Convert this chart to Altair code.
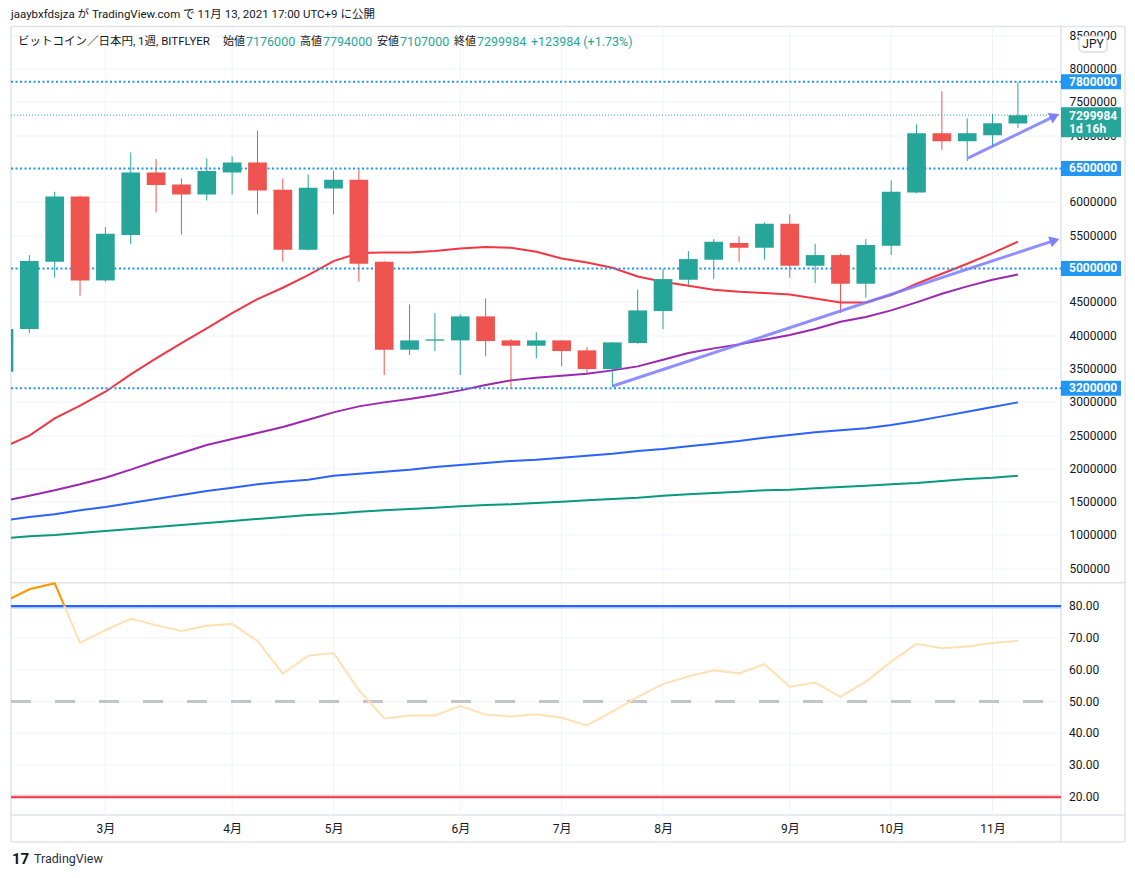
import altair as alt
import pandas as pd

FONT = "Roboto, 'Noto Sans CJK JP', sans-serif"
TEXT = "#131722"
UP = "#26a69a"
DOWN = "#ef5350"
FRAME = "#e0e3eb"
GRID = "#f0f3fa"

# ---------------- data ----------------
bar_index = list(range(41))  # weekly bars, 2021-02-01 .. 2021-11-08
opens = [3450000, 4090000, 5100000, 6080000, 4820000, 5500000, 6440000, 6260000, 6110000, 6440000,
         6590000, 6180000, 5280000, 6200000, 6330000, 5100000, 3780000, 3915000, 3920000, 4280000,
         3920000, 3840000, 3920000, 3770000, 3490000, 3880000, 4360000, 4830000, 5130000, 5380000,
         5310000, 5670000, 5040000, 5200000, 4770000, 5340000, 6140000, 7030000, 6910000, 7000000, 7176000]
highs = [4200000, 5200000, 6150000, 6090000, 5620000, 6740000, 6640000, 6350000, 6650000, 6680000,
         7070000, 6350000, 6410000, 6470000, 6490000, 5110000, 4460000, 4330000, 4310000, 4550000,
         3940000, 4040000, 3920000, 3820000, 3890000, 4680000, 4990000, 5260000, 5440000, 5480000,
         5690000, 5810000, 5370000, 5220000, 5440000, 6320000, 7160000, 7660000, 7250000, 7320000, 7794000]
lows = [3400000, 4030000, 4860000, 4590000, 4800000, 5360000, 5840000, 5510000, 6020000, 6110000,
        5810000, 5100000, 5270000, 5810000, 4800000, 3400000, 3700000, 3760000, 3400000, 3680000,
        3200000, 3650000, 3530000, 3430000, 3220000, 3870000, 4090000, 4730000, 4840000, 5100000,
        5130000, 4860000, 4780000, 4330000, 4560000, 5200000, 6130000, 6780000, 6610000, 6820000, 7107000]
closes = [4090000, 5110000, 6080000, 4820000, 5520000, 6440000, 6250000, 6110000, 6460000, 6590000,
          6170000, 5280000, 6210000, 6330000, 5070000, 3780000, 3920000, 3935000, 4280000, 3910000,
          3840000, 3920000, 3760000, 3490000, 3890000, 4370000, 4840000, 5140000, 5400000, 5310000,
          5670000, 5040000, 5200000, 4770000, 5350000, 6150000, 7030000, 6910000, 7030000, 7180000, 7299984]

ma_red = [2320000, 2490000, 2750000, 2940000, 3150000, 3410000, 3650000, 3880000, 4100000, 4330000,
          4540000, 4710000, 4900000, 5110000, 5230000, 5240000, 5240000, 5260000, 5300000, 5320000,
          5310000, 5250000, 5150000, 5090000, 5010000, 4880000, 4800000, 4740000, 4680000, 4650000,
          4630000, 4610000, 4550000, 4490000, 4490000, 4600000, 4770000, 4920000, 5070000, 5230000, 5400000]
ma_purple = [1510000, 1590000, 1670000, 1760000, 1860000, 1980000, 2110000, 2230000, 2350000, 2440000,
             2530000, 2620000, 2730000, 2840000, 2930000, 2990000, 3040000, 3100000, 3170000, 3250000,
             3320000, 3360000, 3390000, 3420000, 3470000, 3530000, 3630000, 3730000, 3800000, 3860000,
             3930000, 4000000, 4090000, 4200000, 4270000, 4370000, 4490000, 4620000, 4730000, 4830000, 4910000]
ma_blue = [1220000, 1270000, 1310000, 1370000, 1420000, 1480000, 1540000, 1600000, 1660000, 1710000,
           1760000, 1800000, 1830000, 1890000, 1920000, 1950000, 1980000, 2020000, 2050000, 2080000,
           2110000, 2130000, 2160000, 2190000, 2220000, 2260000, 2290000, 2330000, 2370000, 2410000,
           2460000, 2500000, 2540000, 2570000, 2600000, 2650000, 2710000, 2780000, 2850000, 2920000, 2990000]
ma_green = [950000, 980000, 1000000, 1030000, 1060000, 1090000, 1120000, 1150000, 1180000, 1210000,
            1240000, 1270000, 1300000, 1320000, 1350000, 1370000, 1390000, 1410000, 1430000, 1450000,
            1460000, 1480000, 1500000, 1520000, 1540000, 1560000, 1590000, 1610000, 1630000, 1650000,
            1670000, 1680000, 1700000, 1720000, 1740000, 1760000, 1780000, 1810000, 1840000, 1860000, 1890000]

rsi = [81.5, 85.4, 87.3, 68.5, 72.5, 76.1, 74.1, 72.3, 73.9, 74.5,
       69.1, 58.8, 64.5, 65.3, 53.6, 44.7, 45.6, 45.6, 48.6, 45.9,
       45.3, 46.0, 44.9, 42.5, 46.8, 51.5, 55.5, 57.9, 59.9, 58.9,
       61.8, 54.7, 56.0, 51.5, 56.3, 62.6, 68.2, 66.8, 67.4, 68.5, 69.2]
rsi_over_i = [0, 1, 2, 2.39]
rsi_over_v = [81.5, 85.4, 87.3, 80.0]
rsi_upper = [80]
rsi_mid = [50]
rsi_lower = [20]

levels = [7800000, 6500000, 5000000, 3200000]
last_price = [7299984]

trend1_i = [24.02, 41.45]
trend1_v = [3235000, 5420000]
trend2_i = [38.03, 41.45]
trend2_v = [6655000, 7285000]

month_ticks = [4, 9, 13, 18, 22, 26, 31, 35, 39]
month_labels = ["3月", "4月", "5月", "6月", "7月", "8月", "9月", "10月", "11月"]
price_ticks = list(range(500000, 8500001, 500000))
rsi_ticks = [20, 30, 40, 50, 60, 70, 80]

title_text = "jaaybxfdsjza が TradingView.com で 11月 13, 2021 17:00 UTC+9 に公開"
header_name = "ビットコイン／日本円, 1週, BITFLYER"
header_items = [("始値", "7176000"), ("高値", "7794000"), ("安値", "7107000"), ("終値", "7299984")]
header_change = "+123984 (+1.73%)"

# ---------------- layout ----------------
W = 1050          # plot width (both panes)
HP = 556          # price pane height
RT = 556.5        # RSI pane top
H = 788.5         # total plot height (price + RSI)
R = W + 64        # right frame

X = alt.Scale(domain=[0.276, 41.70], nice=False, zero=False, padding=0)
YP = alt.Scale(domain=[287000, 8630000], range=[HP, 0], nice=False, zero=False, padding=0)
YR = alt.Scale(domain=[14.24, 87.39], range=[H, RT], nice=False, zero=False, padding=0)

price_axis = alt.Axis(orient="right", values=price_ticks, format="d", ticks=False, domain=False,
                      labelPadding=8, labelFontSize=12, labelFont=FONT, labelColor=TEXT,
                      gridColor=GRID, title=None, labelOverlap=False, labelFlush=False)
label_expr = ("[" + ",".join(f"'{m}'" for m in month_labels) + "][indexof(["
              + ",".join(str(t) for t in month_ticks) + "], datum.value)]")
x_axis = alt.Axis(values=month_ticks, labelExpr=label_expr, ticks=False, domain=False, grid=False,
                  labelPadding=8, labelFontSize=12, labelFont=FONT, labelColor=TEXT, title=None,
                  labelOverlap=False, labelFlush=False)

dummy = pd.DataFrame({"_": [0]})
xE = alt.X("i:Q", scale=X, axis=x_axis)


def yP(field):
    return alt.Y(field, scale=YP, axis=price_axis)


def yR(field):
    return alt.Y(field, scale=YR, axis=None)


def txt(s, x, y, color=TEXT, size=12, weight="normal", align="left", baseline="middle"):
    return alt.Chart(dummy).mark_text(text=s, align=align, baseline=baseline, fontSize=size,
                                      fontWeight=weight, color=color, font=FONT).encode(
        x=alt.value(x), y=alt.value(y))


def prule(x, x2, y, y2=None, color=FRAME, width=1.5):
    enc = dict(x=alt.value(x), y=alt.value(y))
    if x2 is not None:
        enc["x2"] = alt.value(x2)
    if y2 is not None:
        enc["y2"] = alt.value(y2)
    return alt.Chart(dummy).mark_rule(color=color, strokeWidth=width).encode(**enc)


ohlc = pd.DataFrame({"i": bar_index, "open": opens, "high": highs, "low": lows, "close": closes})
ma = pd.DataFrame({"i": bar_index, "red": ma_red, "purple": ma_purple, "blue": ma_blue, "green": ma_green})
months = pd.DataFrame({"i": month_ticks})
color_enc = alt.Color("dir:N", scale=alt.Scale(domain=["up", "down"], range=[UP, DOWN]), legend=None)

# ---------------- price pane ----------------
wicks = alt.Chart(ohlc).transform_calculate(
    dir="datum.close >= datum.open ? 'up' : 'down'"
).mark_rule(strokeWidth=1, clip=True).encode(
    x=xE, y=yP("low:Q"), y2="high:Q", color=color_enc)

bodies = alt.Chart(ohlc).transform_calculate(
    dir="datum.close >= datum.open ? 'up' : 'down'"
).mark_bar(size=18.7, clip=True).encode(
    x=xE, y=yP("open:Q"), y2="close:Q", color=color_enc)


def ma_line(field, color):
    return alt.Chart(ma).mark_line(color=color, strokeWidth=2, clip=True).encode(
        x=xE, y=yP(f"{field}:Q"))


lv = pd.DataFrame({"v": levels})
lvl_lines = alt.Chart(lv).mark_rule(color="#2196f3", strokeWidth=2, strokeDash=[2, 2.5]).encode(
    y=yP("v:Q"), x=alt.value(0), x2=alt.value(W))
lvl_box = alt.Chart(lv).mark_bar(color="#2196f3", size=15, orient="horizontal").encode(
    y=yP("v:Q"), x=alt.value(W), x2=alt.value(W + 60))
lvl_text = alt.Chart(lv).mark_text(color="white", align="left", baseline="middle", fontSize=12,
                                   fontWeight="bold", font=FONT).encode(
    y=yP("v:Q"), x=alt.value(W + 8), text=alt.Text("v:Q", format="d"))

lp = pd.DataFrame({"v": last_price})
last_line = alt.Chart(lp).mark_rule(color=UP, strokeWidth=1, strokeDash=[1, 2]).encode(
    y=yP("v:Q"), x=alt.value(0), x2=alt.value(W))
last_box = alt.Chart(lp).mark_bar(color=UP, size=30, orient="horizontal", yOffset=7).encode(
    y=yP("v:Q"), x=alt.value(W), x2=alt.value(W + 60))
last_text = alt.Chart(lp).mark_text(color="white", align="left", baseline="middle", fontSize=12,
                                    fontWeight="bold", font=FONT, yOffset=1).encode(
    y=yP("v:Q"), x=alt.value(W + 8), text=alt.Text("v:Q", format="d"))
last_cd = alt.Chart(lp).mark_text(color="white", align="left", baseline="middle", fontSize=12,
                                  fontWeight="bold", font=FONT, yOffset=14, text="1d 16h").encode(
    y=yP("v:Q"), x=alt.value(W + 8))

ARROW = "#7b7bff"


def trend(ii, vv, angle):
    d = pd.DataFrame({"i": ii, "v": vv})
    line = alt.Chart(d).mark_line(color=ARROW, strokeWidth=3, opacity=0.85).encode(
        x=xE, y=yP("v:Q"))
    head = alt.Chart(d.tail(1)).mark_point(shape="triangle-right", filled=True, size=130,
                                           color=ARROW, opacity=0.95, angle=angle).encode(
        x=xE, y=yP("v:Q"))
    return line + head


header = [txt(title_text, 0, -12, size=11.5), txt(header_name, 7, 15.5, size=11.5)]
hx = [(212, 235), (289, 312), (366, 389), (443, 466)]
for (lab, val), (xl, xv) in zip(header_items, hx):
    header.append(txt(lab, xl, 15.5, size=11))
    header.append(txt(val, xv, 15.5, color=UP, size=12.5))
header.append(txt(header_change, 520, 15.5, color=UP, size=12.5))

jpy_box = alt.Chart(dummy).mark_rect(fill="white", stroke="#c9ccd4", strokeWidth=1, cornerRadius=4).encode(
    x=alt.value(W + 18), x2=alt.value(W + 46), y=alt.value(9.5), y2=alt.value(25.5))
jpy_text = txt("JPY", W + 32, 17.5, align="center", size=12)

vgrid = alt.Chart(months).mark_rule(color=GRID, strokeWidth=1).encode(x=xE)

frame = [
    prule(0, R, HP + 0.25),            # pane separator
    prule(W, R, 0), prule(R, None, 0, H + 27),
    prule(W, R, H), prule(0, R, H + 27),
    prule(0, None, H, H + 27), prule(W, None, H, H + 27),
]

price = alt.layer(
    vgrid, wicks, ma_line("green", "#089981"), ma_line("blue", "#2962ff"),
    ma_line("purple", "#9c27b0"), ma_line("red", "#f23645"),
    lvl_lines, last_line, bodies,
    trend(trend1_i, trend1_v, 342), trend(trend2_i, trend2_v, 335),
    lvl_box, lvl_text, last_box, last_text, last_cd,
    jpy_box, jpy_text,
    *frame,
    txt("17", 1, H + 44, size=15, weight="bold"),
    txt("TradingView", 23, H + 44, size=12.5, color="#2a2e39"),
    *header
)

# ---------------- RSI pane ----------------
rsi_df = pd.DataFrame({"i": bar_index, "rsi": rsi})
over_df = pd.DataFrame({"i": rsi_over_i, "rsi": rsi_over_v})
rt = pd.DataFrame({"v": rsi_ticks})

rsi_grid = alt.Chart(rt).mark_rule(color=GRID, strokeWidth=1).encode(
    y=yR("v:Q"), x=alt.value(0), x2=alt.value(W))
rsi_labels = alt.Chart(rt).mark_text(align="left", baseline="middle", fontSize=12, font=FONT,
                                     color=TEXT).encode(
    y=yR("v:Q"), x=alt.value(W + 8), text=alt.Text("v:Q", format=".2f"))
rsi_line = alt.Chart(rsi_df).mark_line(color="#ffe0b2", strokeWidth=2, clip=True).encode(
    x=xE, y=yR("rsi:Q"))
rsi_over = alt.Chart(over_df).mark_line(color="#ff9800", strokeWidth=2, clip=True).encode(
    x=xE, y=yR("rsi:Q"))


def hline(vals, color, width, yoff=0, dash=None, x2=W):
    kw = dict(color=color, strokeWidth=width, yOffset=yoff, strokeCap="butt")
    if dash:
        kw["strokeDash"] = dash
    return alt.Chart(pd.DataFrame({"v": vals})).mark_rule(**kw).encode(
        y=yR("v:Q"), x=alt.value(0), x2=alt.value(x2))


rsi_layer = alt.layer(
    rsi_grid, rsi_labels,
    hline(rsi_mid, "#c4c5ca", 3, 0, [20, 24], 1038),
    hline(rsi_upper, "#aac4ff", 1.5, 1.2), hline(rsi_upper, "#2962ff", 2, -0.5),
    hline(rsi_lower, "#ffc9c9", 1.5, -1.2), hline(rsi_lower, "#f23645", 2, 0.6),
    rsi_line, rsi_over,
)

chart = alt.layer(price, rsi_layer).resolve_scale(y="independent").properties(
    width=W, height=H,
    padding={"left": 1, "top": 0.5, "right": 0, "bottom": 0}, background="white"
).configure_view(stroke=FRAME, strokeWidth=1.5)

chart.save("out.html", embed_options={"renderer": "svg", "actions": False})
